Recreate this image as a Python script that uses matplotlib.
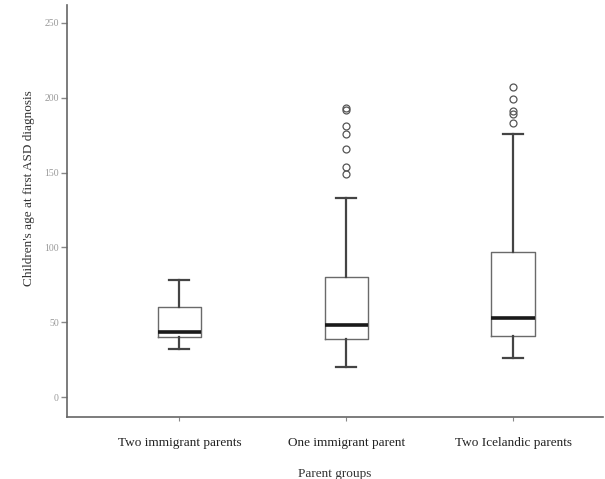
import matplotlib
matplotlib.use("Agg")
import matplotlib.pyplot as plt

# Datos (edad en meses)
grupos = ["Two immigrant parents", "One immigrant parent", "Two Icelandic parents"]
whis_lo = [32, 20, 26]
q1 = [40, 39, 41]
mediana = [43.5, 48, 53]
q3 = [60, 80, 97]
whis_hi = [78, 133, 176]
atipicos = [
    [],
    [149, 154, 166, 176, 181, 192, 193],
    [183, 189, 191, 199, 207],
]

plt.rcParams["font.family"] = ["Liberation Serif", "DejaVu Serif"]

fig = plt.figure(figsize=(6.05, 4.79), dpi=100)
ax = fig.add_axes([0.111, 0.129, 0.886, 0.861])

stats = []
for i, g in enumerate(grupos):
    stats.append({
        "label": g, "whislo": whis_lo[i], "q1": q1[i], "med": mediana[i],
        "q3": q3[i], "whishi": whis_hi[i], "fliers": atipicos[i],
    })

ax.bxp(stats, positions=[1, 2, 3], widths=0.26, capwidths=0.12, showfliers=True,
       boxprops=dict(color="#6a6a6a", linewidth=1.0),
       whiskerprops=dict(color="#444444", linewidth=1.6),
       capprops=dict(color="#444444", linewidth=1.6),
       medianprops=dict(color="#1a1a1a", linewidth=2.6),
       flierprops=dict(marker="o", markersize=5, markerfacecolor="none",
                       markeredgecolor="#555555", markeredgewidth=0.9))

ax.set_xlim(0.327, 3.54)
ax.set_ylim(-13.3, 262)
ax.set_yticks([0, 50, 100, 150, 200, 250])
ax.spines["top"].set_visible(False)
ax.spines["right"].set_visible(False)
ax.spines["left"].set_color("#666666")
ax.spines["bottom"].set_color("#666666")
ax.spines["left"].set_linewidth(1.2)
ax.spines["bottom"].set_linewidth(1.2)
ax.tick_params(axis="y", colors="#888888", labelcolor="#999999", labelsize=7,
               length=4, width=1.0, pad=2)
ax.tick_params(axis="x", colors="#888888", labelcolor="#222222", labelsize=9.5,
               length=3, width=0.8, pad=11)
ax.set_ylabel("Children's age at first ASD diagnosis", fontsize=9.5, color="#333333")
ax.yaxis.set_label_coords(-0.060, 0.556)
ax.set_xlabel("Parent groups", fontsize=9.5, color="#333333", labelpad=14)

plt.savefig("out.png", dpi=100)
